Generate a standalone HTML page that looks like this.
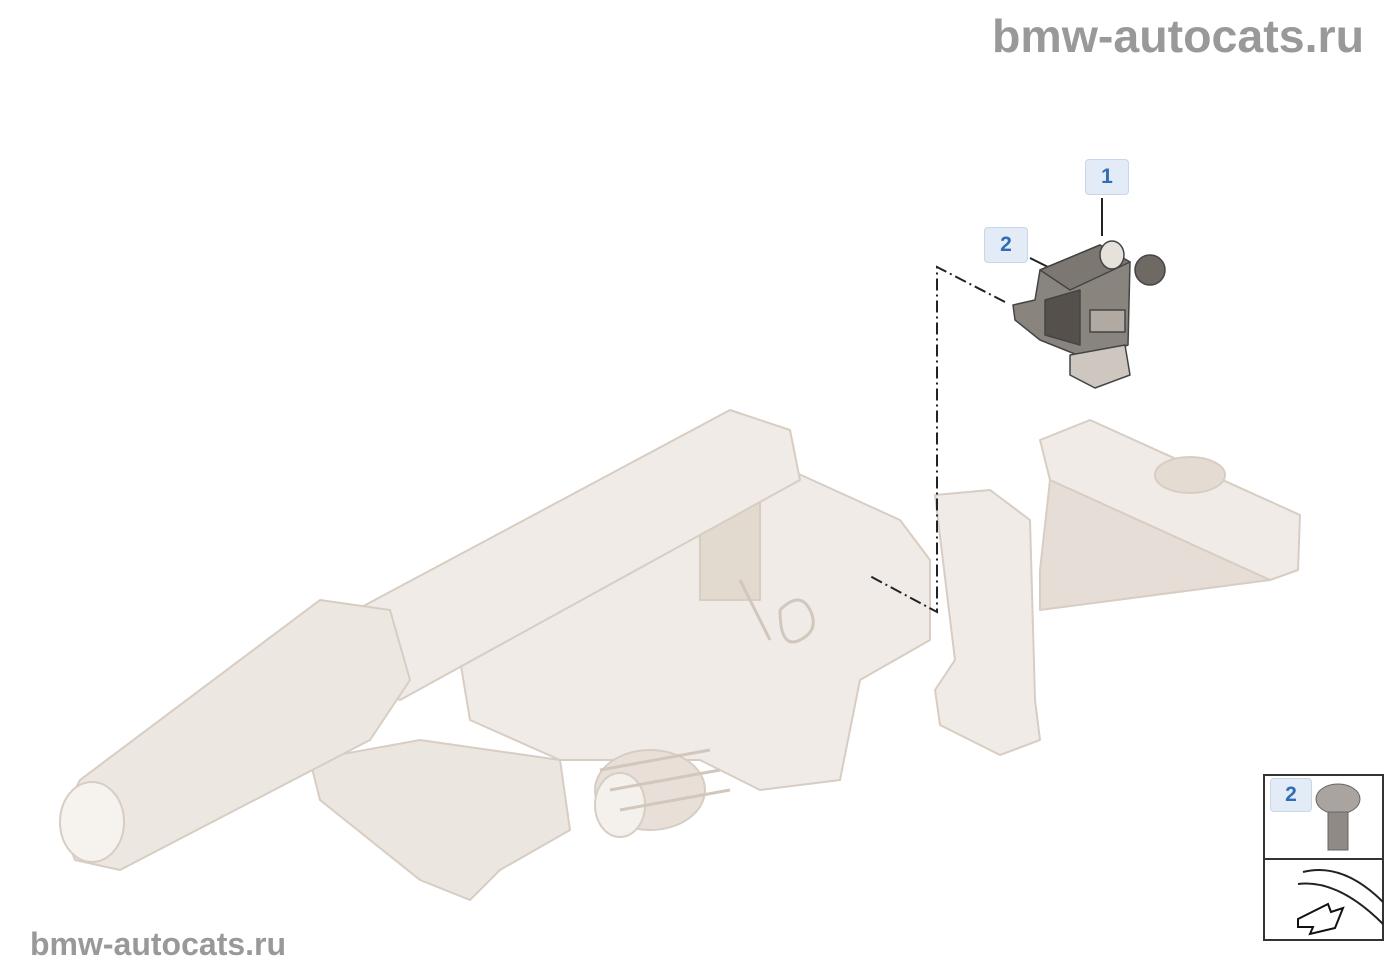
<!DOCTYPE html>
<html><head><meta charset="utf-8"><style>
html,body{margin:0;padding:0;background:#fff;}
body{width:1400px;height:980px;position:relative;overflow:hidden;font-family:"Liberation Sans",sans-serif;}
.wm{position:absolute;color:#999;font-weight:bold;}
.lbl{position:absolute;width:42px;height:34px;background:#e3ecf6;border:1px solid #c8d6e6;border-radius:4px;color:#2f6db5;font-weight:bold;font-size:21px;text-align:center;line-height:34px;}
</style></head><body>
<div class="wm" style="left:992px;top:9px;font-size:46.5px;">bmw-autocats.ru</div>
<div class="wm" style="left:30px;top:926px;font-size:32px;">bmw-autocats.ru</div>

<svg width="1400" height="980" style="position:absolute;left:0;top:0">
<g fill="#f0ebe6" stroke="#d8cdc3" stroke-width="2" stroke-linejoin="round">
 <path d="M1040,440 L1090,420 L1300,515 L1298,570 L1270,580 L1050,480 Z"/>
 <path d="M1050,480 L1270,580 L1040,610 L1040,570 Z" fill="#e6ded6"/>
 <ellipse cx="1190" cy="475" rx="35" ry="18" fill="#e4dcd3"/>
 <path d="M935,495 L990,490 L1030,520 L1035,700 L1040,740 L1000,755 L940,725 L935,690 L955,660 Z"/>
 <path d="M450,600 L560,520 L790,470 L900,520 L930,560 L930,640 L860,680 L840,780 L760,790 L700,760 L560,760 L470,720 Z"/>
 <path d="M700,500 L760,500 L760,600 L700,600 Z" fill="#e2d9cf"/>
 <path d="M300,640 L730,410 L790,430 L800,480 L400,700 Z"/>
 <path d="M310,760 L420,740 L560,760 L570,830 L500,870 L470,900 L420,880 L320,800 Z" fill="#ece6e0"/>
 <ellipse cx="650" cy="790" rx="55" ry="40" fill="#e8e0d8"/>
 <ellipse cx="620" cy="805" rx="25" ry="32" fill="#f4f0ec"/>
 <path d="M80,780 L320,600 L390,610 L410,680 L370,740 L120,870 L75,860 L60,820 Z" fill="#ede7e1"/>
 <ellipse cx="92" cy="822" rx="32" ry="40" fill="#f6f2ee"/>
</g>
<g fill="none" stroke="#d2c7bc" stroke-width="3">
 <path d="M780,610 q20,-20 30,0 q10,20 -10,30 q-20,10 -20,-30"/>
 <path d="M740,580 l30,60"/>
 <path d="M600,770 l110,-20 M610,790 l110,-20 M620,810 l110,-20"/>
</g>
<g fill="none" stroke="#222" stroke-width="2" stroke-dasharray="12,4,2,4">
 <path d="M1005,302 L937,267 L937,612 L868,575"/>
 <path d="M1102,198 L1102,236" stroke-dasharray="none"/>
 <path d="M1030,258 L1058,272" stroke-dasharray="none"/>
</g>
<g stroke="#444" stroke-width="1.5" stroke-linejoin="round">
 <path d="M1013,305 L1035,300 L1040,270 L1100,245 L1130,262 L1128,345 L1090,360 L1040,340 L1015,320 Z" fill="#8a847e"/>
 <path d="M1040,270 L1100,245 L1130,262 L1070,290 Z" fill="#7d7771"/>
 <path d="M1045,300 L1080,290 L1080,345 L1045,335 Z" fill="#55504b"/>
 <path d="M1070,355 L1125,345 L1130,375 L1095,388 L1070,375 Z" fill="#cdc7c0"/>
 <rect x="1090" y="310" width="35" height="22" fill="#b0aaa3"/>
 <circle cx="1150" cy="270" r="15" fill="#6f6963"/>
 <ellipse cx="1112" cy="255" rx="12" ry="14" fill="#e6e1db"/>
</g>
</svg>

<div class="lbl" style="left:1085px;top:159px;">1</div>
<div class="lbl" style="left:984px;top:227px;">2</div>

<div style="position:absolute;left:1263px;top:774px;width:121px;height:167px;border:2px solid #333;box-sizing:border-box;">
 <div style="position:absolute;left:0;top:82px;width:100%;height:2px;background:#333;"></div>
 <div class="lbl" style="left:5px;top:2px;width:40px;height:32px;line-height:32px;">2</div>
 <svg width="121" height="167" style="position:absolute;left:-2px;top:-2px">
  <ellipse cx="75" cy="25" rx="22" ry="15" fill="#a9a49f" stroke="#666"/>
  <rect x="65" y="38" width="20" height="38" fill="#8f8a85" stroke="#666"/>
  <path d="M40,98 q40,-10 80,30 M35,110 q40,-5 85,40" fill="none" stroke="#222" stroke-width="2"/>
  <path d="M35,145 l30,-15 l3,8 l12,-4 l-8,20 l-25,6 l3,-7 l-15,0 z" fill="#fff" stroke="#111" stroke-width="2"/>
 </svg>
</div>
</body></html>
